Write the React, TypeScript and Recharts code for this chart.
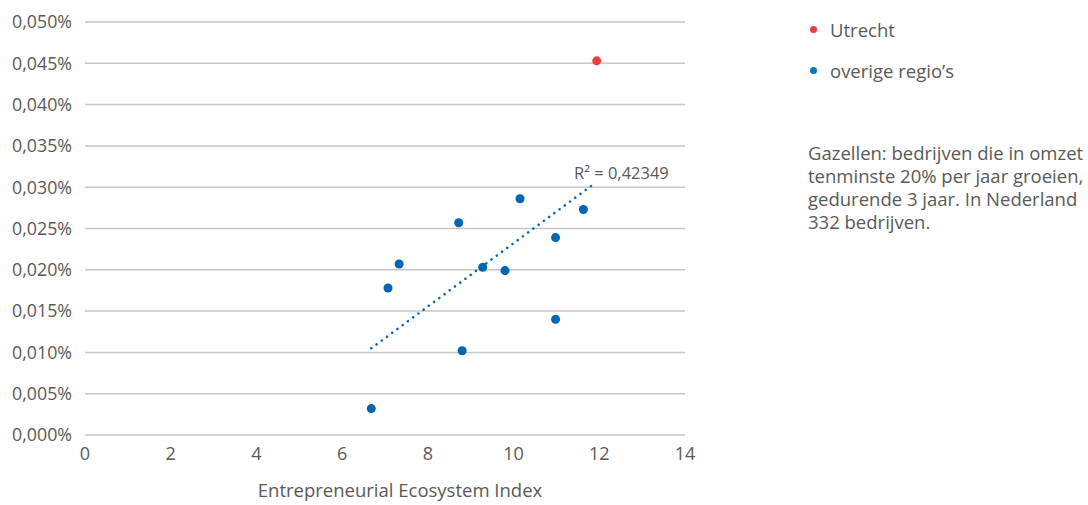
import React from 'react';
import {
  ScatterChart,
  Scatter,
  XAxis,
  YAxis,
  CartesianGrid,
  ReferenceLine,
  ReferenceDot,
} from 'recharts';

// Entrepreneurial Ecosystem Index (x) vs. share of gazellen in % (y)
const otherRegions = [
  { x: 6.68, y: 0.0032 },
  { x: 7.07, y: 0.0178 },
  { x: 7.33, y: 0.0207 },
  { x: 8.72, y: 0.0257 },
  { x: 8.8, y: 0.0102 },
  { x: 9.28, y: 0.0203 },
  { x: 9.8, y: 0.0199 },
  { x: 10.15, y: 0.0286 },
  { x: 10.98, y: 0.0239 },
  { x: 10.98, y: 0.014 },
  { x: 11.63, y: 0.0273 },
];

const utrecht = [{ x: 11.94, y: 0.0453 }];

const trendLine = [
  { x: 6.68, y: 0.0105 },
  { x: 11.9, y: 0.0305 },
];

const xTicks = [0, 2, 4, 6, 8, 10, 12, 14];
const yTicks = [0, 0.005, 0.01, 0.015, 0.02, 0.025, 0.03, 0.035, 0.04, 0.045, 0.05];

const BLUE = '#0066b3';
const RED = '#e8403e';
const GREY = '#595959';
const FONT = '"Open Sans", "Noto Sans", sans-serif';

const fmtPct = (v: number) => v.toFixed(3).replace('.', ',') + '%';

const R2Label = (props: any) => {
  const { cx, cy } = props;
  return (
    <text x={cx - 21} y={cy - 4} fill={GREY} fontSize={16.5} fontFamily={FONT}>
      R² = 0,42349
    </text>
  );
};

const AxisTitle = (props: any) => {
  const { viewBox } = props;
  return (
    <text
      x={viewBox.x + viewBox.width / 2 + 15}
      y={viewBox.y + viewBox.height - 8}
      textAnchor="middle"
      fill={GREY}
      fontSize={18.5}
      fontFamily={FONT}
    >
      Entrepreneurial Ecosystem Index
    </text>
  );
};

const App: React.FC = () => {
  return (
    <div
      style={{
        position: 'absolute',
        left: 0,
        top: 0,
        width: 1088,
        height: 505,
        background: '#fff',
        fontFamily: FONT,
        color: GREY,
      }}
    >
      <ScatterChart
        width={720}
        height={505}
        margin={{ top: 22, right: 35, left: 0, bottom: 0 }}
      >
        <CartesianGrid vertical={false} stroke="#c6c6c6" strokeWidth={1.5} />
        <XAxis
          type="number"
          dataKey="x"
          domain={[0, 14]}
          ticks={xTicks}
          axisLine={false}
          tickLine={false}
          tickSize={0}
          tickMargin={12}
          height={70}
          tick={{ fill: GREY, fontSize: 18, fontFamily: FONT }}
          label={<AxisTitle />}
        />
        <YAxis
          type="number"
          dataKey="y"
          domain={[0, 0.05]}
          ticks={yTicks}
          axisLine={false}
          tickLine={false}
          tickSize={0}
          tickMargin={13}
          width={85}
          tickFormatter={fmtPct}
          tick={{ fill: GREY, fontSize: 17.8, fontFamily: FONT }}
        />
        <ReferenceLine
          segment={trendLine}
          stroke={BLUE}
          strokeWidth={2.5}
          strokeDasharray="0.1 6.4"
          strokeLinecap="round"
        />
        <Scatter name="overige regio's" data={otherRegions} fill={BLUE} isAnimationActive={false} />
        <Scatter name="Utrecht" data={utrecht} fill={RED} isAnimationActive={false} />
        <ReferenceDot
          x={trendLine[1].x}
          y={trendLine[1].y}
          r={0}
          fill="none"
          stroke="none"
          shape={(p: any) => <R2Label {...p} />}
        />
      </ScatterChart>

      <div style={{ position: 'absolute', left: 810, top: 16, fontSize: 18.5, lineHeight: '27px' }}>
        <div style={{ display: 'flex', alignItems: 'center' }}>
          <span
            style={{ width: 7, height: 7, borderRadius: '50%', background: RED, marginRight: 13 }}
          />
          Utrecht
        </div>
        <div style={{ display: 'flex', alignItems: 'center', marginTop: 14 }}>
          <span
            style={{ width: 7, height: 7, borderRadius: '50%', background: '#0a74c2', marginRight: 13 }}
          />
          overige regio’s
        </div>
      </div>

      <div
        style={{
          position: 'absolute',
          left: 808,
          top: 141,
          width: 290,
          fontSize: 18.5,
          lineHeight: '23px',
          whiteSpace: 'nowrap',
        }}
      >
        Gazellen: bedrijven die in omzet
        <br />
        tenminste 20% per jaar groeien,
        <br />
        gedurende 3 jaar. In Nederland
        <br />
        332 bedrijven.
      </div>
    </div>
  );
};

export default App;
